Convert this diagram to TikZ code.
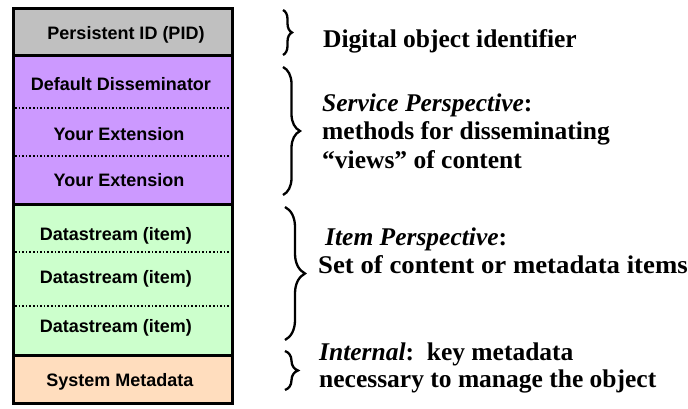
\documentclass[tikz,border=0pt]{standalone}
\usepackage{fontspec}
\usepackage{graphicx}
\setmainfont{Liberation Serif}
\setsansfont{Liberation Sans}
\usetikzlibrary{decorations.pathreplacing}
\definecolor{pidgray}{HTML}{C0C0C0}
\definecolor{svcpurple}{HTML}{CC99FF}
\definecolor{itemgreen}{HTML}{CCFFCC}
\definecolor{sysorange}{RGB}{255,221,190}
\begin{document}
\begin{tikzpicture}[x=1pt,y=-1pt,
  boxlabel/.style={font=\sffamily\bfseries\fontsize{18}{21}\selectfont, inner sep=0pt, anchor=base},
  desc/.style={font=\rmfamily\bfseries\fontsize{25.5}{30}\selectfont, inner sep=0pt, anchor=base west},
  solidsep/.style={line width=3pt},
  dotsep/.style={line width=1.6pt, dotted},
  bracestyle/.style={decorate, decoration={brace, amplitude=#1}, line width=2.3pt},
]
\useasboundingbox (0,0) rectangle (688,409);
% section fills
\fill[pidgray]   (13.5,8.5) rectangle (232,56);
\fill[svcpurple] (13.5,56)  rectangle (232,204);
\fill[itemgreen] (13.5,204) rectangle (232,355);
\fill[sysorange] (13.5,355) rectangle (232,403);
% dotted separators
\draw[dotsep] (15,108) -- (231,108);
\draw[dotsep] (15,156) -- (231,156);
\draw[dotsep] (15,252) -- (231,252);
\draw[dotsep] (15,306) -- (231,306);
% solid separators
\draw[solidsep] (13.5,56) -- (232,56);
\draw[solidsep] (13.5,204) -- (232,204);
\draw[solidsep] (13.5,355) -- (232,355);
% outer frame
\draw[line width=3pt] (13.5,8.5) rectangle (232,403);
% box labels
\node[boxlabel] (pid)  at (126,40)  {Persistent ID (PID)};
\node[boxlabel] (dd)   at (121,91)  {Default Disseminator};
\node[boxlabel] (ext1) at (119,141) {Your Extension};
\node[boxlabel] (ext2) at (119,186) {Your Extension};
\node[boxlabel] (ds1)  at (116,240) {Datastream (item)};
\node[boxlabel] (ds2)  at (116,283) {Datastream (item)};
\node[boxlabel] (ds3)  at (116,332) {Datastream (item)};
\node[boxlabel] (sys)  at (120,386) {System Metadata};
% braces
\draw[bracestyle=9]  (283,10)  -- (283,55);
\draw[bracestyle=17] (283,67)  -- (283,195);
\draw[bracestyle=20] (285,207) -- (285,340);
\draw[bracestyle=13] (285,351) -- (285,390);
% descriptions
\node[desc] (t1) at (323,48)  {Digital object identifier};
\node[desc] (t2) at (322,112) {\textit{Service Perspective}:};
\node[desc] (t3) at (322,140) {methods for disseminating};
\node[desc] (t4) at (322,168) {“views” of content};
\node[desc] (t5) at (325,245) {\textit{Item Perspective}:};
\node[desc] (t6) at (318,273) {\scalebox{1.05}[1]{Set of content or metadata items}};
\node[desc] (t7) at (319,360) {\textit{Internal}:\ \ key metadata};
\node[desc] (t8) at (319,387) {necessary to manage the object};
\end{tikzpicture}
\end{document}
